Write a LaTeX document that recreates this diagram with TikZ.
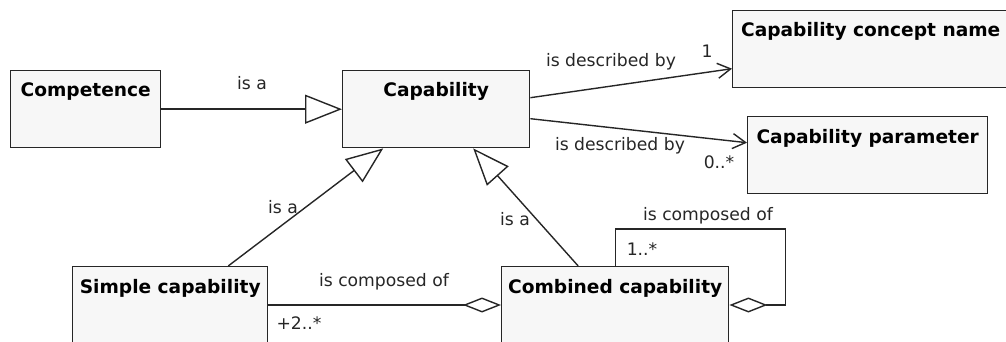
\documentclass[tikz,border=0pt]{standalone}
\usepackage{fontspec}
\setmainfont{DejaVu Sans}
\usetikzlibrary{arrows.meta}

\begin{document}
\begin{tikzpicture}[x=1pt, y=-1pt,
	cls/.style={draw=black!85, fill=black!3, line width=1.4pt, anchor=north west, inner sep=0pt},
	title/.style={font=\bfseries\fontsize{18.6}{22}\selectfont, anchor=base, inner sep=0pt},
	lbl/.style={font=\fontsize{17.2}{20}\selectfont, text=black!85, anchor=base, inner sep=0pt},
	conn/.style={draw=black!85, line width=1.4pt},
	isa/.style={conn, -{Triangle[length=37pt, width=29pt, fill=white]}},
	desc/.style={conn, -{Straight Barb[length=13pt, width=15pt]}},
	agg/.style={conn, {Diamond[length=38pt, width=15pt, fill=white]}-}]
			\clip (0,0) rectangle (1006,342);
			
			% classes
			\node[cls, minimum width=150pt, minimum height=77pt] (comp) at (10,70) {};
			\node[cls, minimum width=187pt, minimum height=77pt] (cap) at (342,70) {};
			\node[cls, minimum width=276pt, minimum height=77pt] (cname) at (732,10) {};
			\node[cls, minimum width=240pt, minimum height=77pt] (cparam) at (747,116) {};
			\node[cls, minimum width=195pt, minimum height=100pt] (simple) at (72,266) {};
			\node[cls, minimum width=227pt, minimum height=100pt] (comb) at (501,266) {};
			
			\node[title] (tcomp) at ([yshift=-27pt]comp.north) {Competence};
			\node[title] (tcap) at ([yshift=-27pt]cap.north) {Capability};
			\node[title] (tcname) at ([yshift=-27pt]cname.north) {Capability concept name};
			\node[title] (tcparam) at ([yshift=-27pt]cparam.north) {Capability parameter};
			\node[title] (tsimple) at ([yshift=-27pt]simple.north) {Simple capability};
			\node[title] (tcomb) at ([yshift=-27pt]comb.north) {Combined capability};
			
			% generalisations
			\draw[isa] (comp.east) -- (cap.west);
			\draw[isa] ([xshift=58pt]simple.north) -- ([xshift=-53pt]cap.south);
			\draw[isa] ([xshift=-37pt]comb.north) -- ([xshift=37pt]cap.south);
			
			% associations
			\draw[desc] ([yshift=11.5pt]cap.east) -- ([yshift=-19.5pt]cname.west);
			\draw[desc] ([yshift=-9.5pt]cap.east) -- ([yshift=12.5pt]cparam.west);
			
			% aggregations
			\draw[agg] ([yshift=-39pt]comb.north west) -- ([yshift=-39pt]simple.north east);
			\draw[agg] ([yshift=-39pt]comb.north east) -| ([xshift=56pt, yshift=37pt]comb.north east) -| (comb.north);
			
			% labels
			\node[lbl] (isa1) at (252,90) {is a};
			\node[lbl] (isa2) at (283,213) {is a};
			\node[lbl] (isa3) at (515,225) {is a};
			\node[lbl] (desc1) at (611,67) {is described by};
			\node[lbl] (mult1) at (707,58) {1};
			\node[lbl] (desc2) at (620,150) {is described by};
			\node[lbl] (mult2) at (719,168) {0..*};
			\node[lbl] (comp1) at (384,286) {is composed of};
			\node[lbl] (mult3) at (299,329) {+2..*};
			\node[lbl] (comp2) at (708,220) {is composed of};
			\node[lbl] (mult4) at (642,255) {1..*};
\end{tikzpicture}
\end{document}
